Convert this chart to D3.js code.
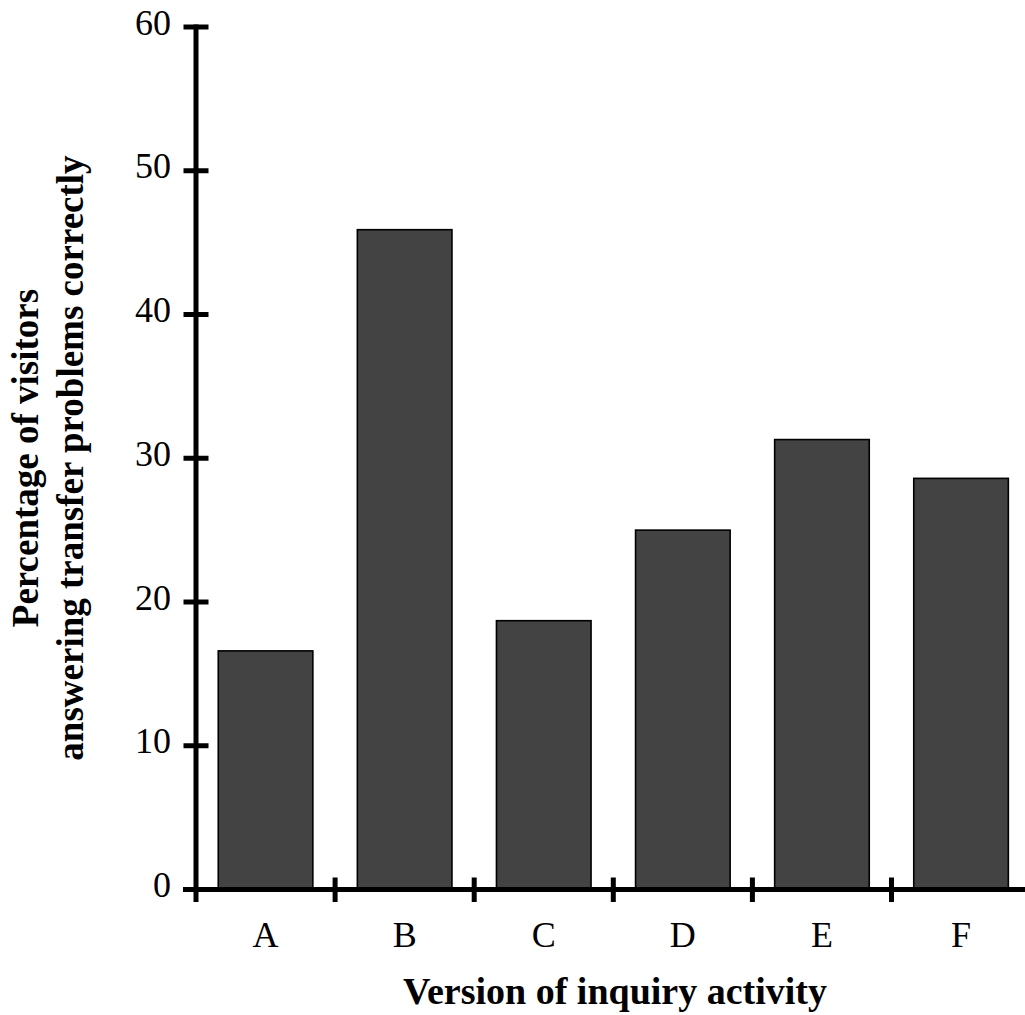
<!DOCTYPE html>
<html>
<head>
<meta charset="utf-8">
<script src="https://cdn.jsdelivr.net/npm/d3@7"></script>
<style>
  html, body { margin: 0; padding: 0; background: #fff; }
  svg { display: block; }
  text { font-family: "Liberation Serif", "Times New Roman", Times, serif; fill: #000; }
</style>
</head>
<body>
<svg id="chart" width="1025" height="1015"></svg>
<script>
const categories = ["A", "B", "C", "D", "E", "F"];
const values = [16.6, 45.9, 18.7, 25.0, 31.3, 28.6];
const yTicks = [0, 10, 20, 30, 40, 50, 60];
const xTitle = "Version of inquiry activity";
const yTitleLines = ["Percentage of visitors", "answering transfer problems correctly"];

const svg = d3.select("#chart");
const x0 = 196, yBase = 889.5, yTop = 27;
const step = 139.1;

const x = d3.scaleBand()
  .domain(categories)
  .range([x0, x0 + step * categories.length])
  .paddingInner(0.32)
  .paddingOuter(0.16);

const y = d3.scaleLinear().domain([0, 60]).range([yBase, yTop]);

// bars
svg.append("g").selectAll("rect")
  .data(categories.map((c, i) => ({ c, v: values[i] })))
  .join("rect")
  .attr("x", d => x(d.c))
  .attr("y", d => y(d.v))
  .attr("width", x.bandwidth())
  .attr("height", d => y(0) - y(d.v))
  .attr("fill", "#434343")
  .attr("stroke", "#000")
  .attr("stroke-width", 1.6);

// y axis
const yAxis = svg.append("g");
yAxis.append("line")
  .attr("x1", x0).attr("x2", x0)
  .attr("y1", y(60) - 2.5).attr("y2", yBase + 12.5)
  .attr("stroke", "#000").attr("stroke-width", 5);
yAxis.selectAll("line.tick")
  .data(yTicks)
  .join("line")
  .attr("class", "tick")
  .attr("x1", x0 - 12.5).attr("x2", x0 + 12.5)
  .attr("y1", d => y(d)).attr("y2", d => y(d))
  .attr("stroke", "#000").attr("stroke-width", 5);
yAxis.selectAll("text")
  .data(yTicks)
  .join("text")
  .attr("x", 171)
  .attr("y", d => y(d) + 7.5)
  .attr("text-anchor", "end")
  .attr("font-size", 36)
  .text(d => d);

// x axis
const xAxis = svg.append("g");
xAxis.append("line")
  .attr("x1", x0 - 13).attr("x2", 1025)
  .attr("y1", yBase).attr("y2", yBase)
  .attr("stroke", "#000").attr("stroke-width", 5);
const bounds = categories.slice(1).map(c => x(c) - x.step() * x.paddingInner() / 2);
xAxis.selectAll("line.tick")
  .data(bounds)
  .join("line")
  .attr("class", "tick")
  .attr("x1", d => d).attr("x2", d => d)
  .attr("y1", yBase - 12).attr("y2", yBase + 12.5)
  .attr("stroke", "#000").attr("stroke-width", 5);
xAxis.selectAll("text")
  .data(categories)
  .join("text")
  .attr("x", d => x(d) + x.bandwidth() / 2)
  .attr("y", 947)
  .attr("text-anchor", "middle")
  .attr("font-size", 36)
  .text(d => d);

// titles
svg.append("text")
  .attr("x", 615).attr("y", 1004)
  .attr("text-anchor", "middle")
  .attr("font-size", 38)
  .attr("font-weight", "bold")
  .text(xTitle);

const yt = svg.append("text")
  .attr("transform", "translate(0,458) rotate(-90)")
  .attr("text-anchor", "middle")
  .attr("font-size", 37)
  .attr("font-weight", "bold");
yTitleLines.forEach((t, i) => {
  yt.append("tspan").attr("x", 0).attr("y", 38 + i * 44.5).text(t);
});
</script>
</body>
</html>
